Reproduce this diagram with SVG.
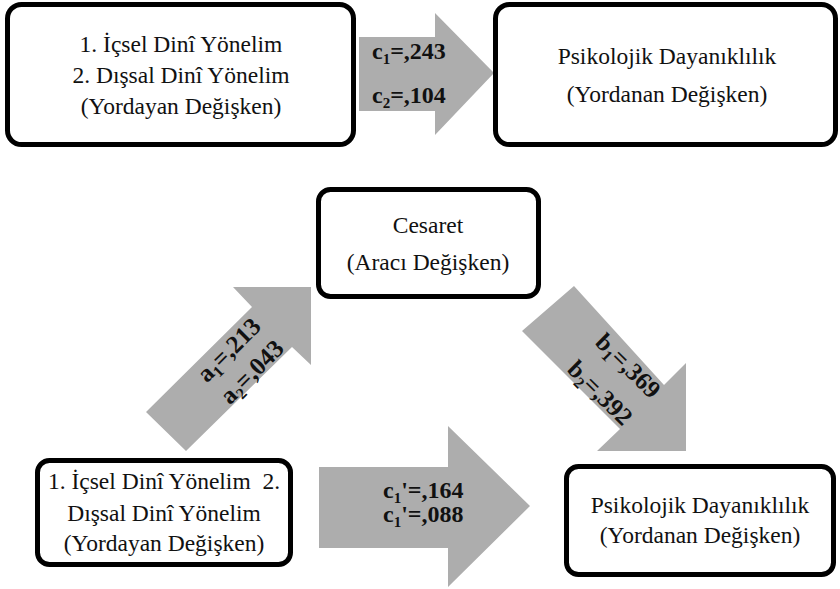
<svg xmlns="http://www.w3.org/2000/svg" width="840" height="589" viewBox="0 0 840 589">
<style>
.box{fill:#fff;stroke:#000;stroke-width:5}
.arr{fill:#adadad;stroke:none}
.t{font-family:"Liberation Serif","DejaVu Serif",serif;font-size:23.5px;fill:#111;text-anchor:middle}
.lb{font-family:"Liberation Serif","DejaVu Serif",serif;font-size:24px;font-weight:bold;fill:#111}
.d{font-size:25px;text-anchor:middle}
</style>
<rect width="840" height="589" fill="#fff"/>
<g id="connectors">
<polygon id="arrow-c" class="arr" points="359,37 435,37 435,13 494,73 435,135 435,111 359,111"/>
<polygon id="arrow-a" class="arr" points="146,412 252,307 233,287 311,287 311,365 292,347 186,451"/>
<polygon id="arrow-b" class="arr" points="574,286 664,385 686,363 686,451 597,451 620,429 522,331"/>
<polygon id="arrow-cp" class="arr" points="319,467 448,467 448,426 530,506 448,587 448,548 319,548"/>
<text class="lb" x="372" y="59">c<tspan font-size="15" dy="5">1</tspan><tspan dy="-5">=,243</tspan></text>
<text class="lb" x="372" y="103">c<tspan font-size="15" dy="5">2</tspan><tspan dy="-5">=,104</tspan></text>
<text class="lb" x="383" y="498">c<tspan font-size="15" dy="5">1</tspan><tspan dy="-5">'=,164</tspan></text>
<text class="lb" x="383" y="522">c<tspan font-size="15" dy="5">1</tspan><tspan dy="-5">'=,088</tspan></text>
<g transform="translate(229,350) rotate(-45)"><text class="lb d" x="0" y="8">a<tspan font-size="16" dy="5">1</tspan><tspan dy="-5">=,213</tspan></text></g>
<g transform="translate(252,372) rotate(-45)"><text class="lb d" x="0" y="8">a<tspan font-size="16" dy="5">2</tspan><tspan dy="-5">=,043</tspan></text></g>
<g transform="translate(628,366) rotate(45)"><text class="lb d" x="0" y="8">b<tspan font-size="16" dy="5">1</tspan><tspan dy="-5">=,369</tspan></text></g>
<g transform="translate(600,393) rotate(45)"><text class="lb d" x="0" y="8">b<tspan font-size="16" dy="5">2</tspan><tspan dy="-5">=,392</tspan></text></g>
</g>
<g id="node-predictor-top">
<rect class="box" x="7.5" y="4.5" width="346" height="140" rx="14"/>
<text class="t" x="181" y="52">1. İçsel Dinî Yönelim</text>
<text class="t" x="181" y="83">2. Dışsal Dinî Yönelim</text>
<text class="t" x="181" y="114">(Yordayan Değişken)</text>
</g>
<g id="node-outcome-top">
<rect class="box" x="495.5" y="4.5" width="340" height="140" rx="14"/>
<text class="t" x="667" y="64">Psikolojik Dayanıklılık</text>
<text class="t" x="667" y="102">(Yordanan Değişken)</text>
</g>
<g id="node-mediator">
<rect class="box" x="318.5" y="189.5" width="220" height="107" rx="12"/>
<text class="t" x="428" y="233">Cesaret</text>
<text class="t" x="428" y="270">(Aracı Değişken)</text>
</g>
<g id="node-predictor-bottom">
<rect class="box" x="37.5" y="460.5" width="253" height="104" rx="12"/>
<text class="t" x="164" y="489" xml:space="preserve">1. İçsel Dinî Yönelim  2.</text>
<text class="t" x="164" y="521">Dışsal Dinî Yönelim</text>
<text class="t" x="164" y="551">(Yordayan Değişken)</text>
</g>
<g id="node-outcome-bottom">
<rect class="box" x="566.5" y="466.5" width="267" height="108" rx="12"/>
<text class="t" x="700" y="513">Psikolojik Dayanıklılık</text>
<text class="t" x="700" y="543">(Yordanan Değişken)</text>
</g>
</svg>
